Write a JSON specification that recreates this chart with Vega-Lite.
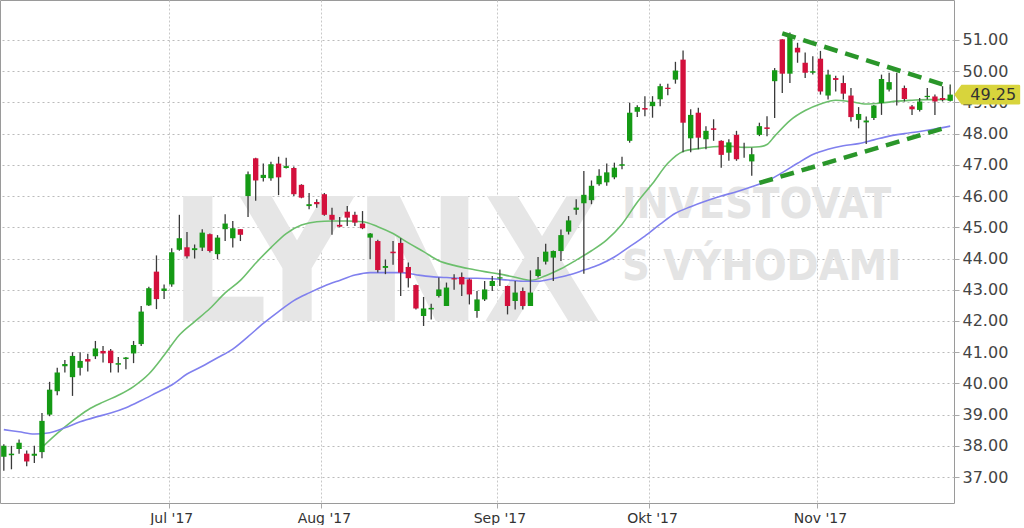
{
  "$schema": "https://vega.github.io/schema/vega-lite/v6.json",
  "width": 954,
  "height": 503,
  "padding": 0,
  "autosize": {"type": "pad"},
  "background": "white",
  "config": {
    "view": {"stroke": "#9a9a9a", "strokeWidth": 1},
    "font": "DejaVu Sans",
    "axisY": {"grid": true, "gridColor": "#bbbbbb", "gridDash": [2, 3], "domain": false, "tickSize": 5, "tickColor": "#aaaaaa", "labelFont": "DejaVu Sans", "labelFontSize": 16, "labelColor": "#444444", "labelPadding": 3},
    "axisX": {"grid": true, "gridColor": "#c8c8c8", "gridDash": [2, 2], "domain": false, "tickSize": 5, "tickColor": "#aaaaaa", "labelFont": "DejaVu Sans", "labelFontSize": 14, "labelColor": "#333333", "labelPadding": 3, "labelAngle": 0}
  },
  "datasets": {
    "candles": [
      {"d":"2017-06-01","o":37.65,"h":38.05,"l":37.2,"c":38.0},
      {"d":"2017-06-02","o":37.7,"h":38.0,"l":37.25,"c":37.75},
      {"d":"2017-06-05","o":37.9,"h":38.2,"l":37.75,"c":38.1},
      {"d":"2017-06-06","o":37.75,"h":37.85,"l":37.35,"c":37.5},
      {"d":"2017-06-07","o":37.68,"h":38.0,"l":37.45,"c":37.75},
      {"d":"2017-06-08","o":37.8,"h":39.05,"l":37.6,"c":38.8},
      {"d":"2017-06-09","o":39.0,"h":40.05,"l":38.95,"c":39.8},
      {"d":"2017-06-12","o":39.75,"h":40.5,"l":39.62,"c":40.35},
      {"d":"2017-06-13","o":40.55,"h":40.75,"l":40.35,"c":40.62},
      {"d":"2017-06-14","o":40.2,"h":41.0,"l":39.6,"c":40.88},
      {"d":"2017-06-15","o":40.5,"h":41.0,"l":40.25,"c":40.72},
      {"d":"2017-06-16","o":40.78,"h":40.95,"l":40.38,"c":40.7},
      {"d":"2017-06-19","o":40.87,"h":41.36,"l":40.78,"c":41.12},
      {"d":"2017-06-20","o":41.04,"h":41.2,"l":40.67,"c":40.96},
      {"d":"2017-06-21","o":41.05,"h":41.1,"l":40.35,"c":40.65},
      {"d":"2017-06-22","o":40.6,"h":40.85,"l":40.35,"c":40.65},
      {"d":"2017-06-23","o":40.78,"h":40.85,"l":40.45,"c":40.83},
      {"d":"2017-06-26","o":40.96,"h":41.36,"l":40.65,"c":41.23},
      {"d":"2017-06-27","o":41.26,"h":42.48,"l":41.2,"c":42.3},
      {"d":"2017-06-28","o":42.5,"h":43.1,"l":42.48,"c":43.05},
      {"d":"2017-06-29","o":43.58,"h":44.1,"l":42.38,"c":42.7},
      {"d":"2017-06-30","o":42.96,"h":43.17,"l":42.7,"c":43.04},
      {"d":"2017-07-03","o":43.17,"h":44.33,"l":43.1,"c":44.2},
      {"d":"2017-07-05","o":44.28,"h":45.4,"l":44.25,"c":44.65},
      {"d":"2017-07-06","o":44.36,"h":44.85,"l":44.0,"c":44.07},
      {"d":"2017-07-07","o":44.27,"h":44.45,"l":44.0,"c":44.33},
      {"d":"2017-07-10","o":44.35,"h":44.94,"l":44.24,"c":44.83},
      {"d":"2017-07-11","o":44.78,"h":44.8,"l":44.19,"c":44.24},
      {"d":"2017-07-12","o":44.14,"h":44.75,"l":43.98,"c":44.67},
      {"d":"2017-07-13","o":44.94,"h":45.42,"l":44.56,"c":45.12},
      {"d":"2017-07-14","o":44.65,"h":45.2,"l":44.35,"c":44.97},
      {"d":"2017-07-17","o":44.94,"h":44.94,"l":44.56,"c":44.76},
      {"d":"2017-07-18","o":46.0,"h":46.79,"l":45.33,"c":46.7},
      {"d":"2017-07-19","o":47.21,"h":47.23,"l":45.85,"c":46.5},
      {"d":"2017-07-20","o":46.58,"h":47.04,"l":46.47,"c":46.68},
      {"d":"2017-07-21","o":46.57,"h":47.1,"l":46.49,"c":47.02},
      {"d":"2017-07-24","o":47.04,"h":47.26,"l":46.03,"c":46.6},
      {"d":"2017-07-25","o":46.9,"h":47.23,"l":46.88,"c":46.96},
      {"d":"2017-07-26","o":46.9,"h":46.95,"l":46.0,"c":46.06},
      {"d":"2017-07-27","o":46.36,"h":46.38,"l":45.93,"c":45.95},
      {"d":"2017-07-28","o":45.68,"h":46.1,"l":45.58,"c":45.74},
      {"d":"2017-07-31","o":45.81,"h":45.9,"l":45.63,"c":45.74},
      {"d":"2017-08-01","o":46.06,"h":46.1,"l":45.37,"c":45.4},
      {"d":"2017-08-02","o":45.4,"h":45.63,"l":44.76,"c":45.24},
      {"d":"2017-08-03","o":45.08,"h":45.33,"l":45.0,"c":45.02},
      {"d":"2017-08-04","o":45.5,"h":45.68,"l":45.04,"c":45.31},
      {"d":"2017-08-07","o":45.4,"h":45.5,"l":45.04,"c":45.15},
      {"d":"2017-08-08","o":45.12,"h":45.52,"l":44.94,"c":44.97},
      {"d":"2017-08-09","o":44.67,"h":44.82,"l":43.98,"c":44.8},
      {"d":"2017-08-10","o":44.56,"h":44.6,"l":43.55,"c":43.63},
      {"d":"2017-08-11","o":43.7,"h":43.97,"l":43.5,"c":43.76},
      {"d":"2017-08-14","o":44.22,"h":44.56,"l":43.8,"c":44.17},
      {"d":"2017-08-15","o":44.5,"h":44.65,"l":42.8,"c":43.55},
      {"d":"2017-08-16","o":43.73,"h":43.87,"l":43.07,"c":43.37},
      {"d":"2017-08-17","o":43.15,"h":43.17,"l":42.37,"c":42.4},
      {"d":"2017-08-18","o":42.16,"h":42.77,"l":41.84,"c":42.4},
      {"d":"2017-08-21","o":42.37,"h":42.55,"l":42.05,"c":42.42},
      {"d":"2017-08-22","o":42.8,"h":43.39,"l":42.75,"c":43.01},
      {"d":"2017-08-23","o":42.48,"h":43.23,"l":42.48,"c":43.07},
      {"d":"2017-08-24","o":43.37,"h":43.5,"l":43.0,"c":43.33},
      {"d":"2017-08-25","o":43.41,"h":43.55,"l":42.8,"c":43.17},
      {"d":"2017-08-28","o":43.33,"h":43.36,"l":42.53,"c":42.85},
      {"d":"2017-08-29","o":42.32,"h":42.96,"l":42.1,"c":42.69},
      {"d":"2017-08-30","o":42.69,"h":43.28,"l":42.64,"c":43.01},
      {"d":"2017-08-31","o":43.12,"h":43.44,"l":42.96,"c":43.28},
      {"d":"2017-09-01","o":43.36,"h":43.65,"l":43.12,"c":43.4},
      {"d":"2017-09-05","o":43.12,"h":43.13,"l":42.21,"c":42.48},
      {"d":"2017-09-06","o":42.64,"h":43.28,"l":42.37,"c":42.91},
      {"d":"2017-09-07","o":42.96,"h":43.07,"l":42.37,"c":42.48},
      {"d":"2017-09-08","o":42.48,"h":43.62,"l":42.48,"c":42.91},
      {"d":"2017-09-11","o":43.44,"h":44.05,"l":43.39,"c":43.65},
      {"d":"2017-09-12","o":43.9,"h":44.47,"l":43.81,"c":44.22},
      {"d":"2017-09-13","o":44.03,"h":44.26,"l":43.28,"c":44.24},
      {"d":"2017-09-14","o":44.24,"h":44.93,"l":43.92,"c":44.75},
      {"d":"2017-09-15","o":44.86,"h":45.36,"l":44.77,"c":45.22},
      {"d":"2017-09-18","o":45.56,"h":45.9,"l":45.4,"c":45.63},
      {"d":"2017-09-19","o":45.77,"h":46.8,"l":43.51,"c":46.04},
      {"d":"2017-09-20","o":45.87,"h":46.5,"l":45.74,"c":46.33},
      {"d":"2017-09-21","o":46.38,"h":46.86,"l":46.33,"c":46.65},
      {"d":"2017-09-22","o":46.44,"h":47.04,"l":46.33,"c":46.76},
      {"d":"2017-09-25","o":46.6,"h":47.07,"l":46.54,"c":46.91},
      {"d":"2017-09-26","o":46.97,"h":47.26,"l":46.86,"c":47.02},
      {"d":"2017-09-27","o":47.77,"h":48.99,"l":47.71,"c":48.67},
      {"d":"2017-09-28","o":48.7,"h":48.91,"l":48.53,"c":48.85},
      {"d":"2017-09-29","o":48.82,"h":49.2,"l":48.56,"c":48.77},
      {"d":"2017-10-02","o":48.88,"h":49.2,"l":48.51,"c":49.02},
      {"d":"2017-10-03","o":49.1,"h":49.6,"l":48.88,"c":49.52},
      {"d":"2017-10-04","o":49.47,"h":49.6,"l":49.23,"c":49.43},
      {"d":"2017-10-05","o":49.73,"h":50.3,"l":49.6,"c":50.02},
      {"d":"2017-10-06","o":50.37,"h":50.66,"l":47.4,"c":48.35},
      {"d":"2017-10-09","o":47.85,"h":48.78,"l":47.4,"c":48.6},
      {"d":"2017-10-10","o":48.67,"h":48.83,"l":47.5,"c":47.87},
      {"d":"2017-10-11","o":47.82,"h":48.24,"l":47.5,"c":48.09},
      {"d":"2017-10-12","o":48.17,"h":48.46,"l":47.77,"c":48.12},
      {"d":"2017-10-13","o":47.77,"h":47.79,"l":46.91,"c":47.32},
      {"d":"2017-10-16","o":47.39,"h":47.82,"l":47.13,"c":47.72},
      {"d":"2017-10-17","o":47.96,"h":48.09,"l":47.13,"c":47.18},
      {"d":"2017-10-18","o":47.5,"h":47.71,"l":47.23,"c":47.5},
      {"d":"2017-10-19","o":47.11,"h":47.55,"l":46.65,"c":47.34},
      {"d":"2017-10-20","o":47.96,"h":48.35,"l":47.92,"c":48.24},
      {"d":"2017-10-23","o":48.2,"h":48.56,"l":47.92,"c":48.15},
      {"d":"2017-10-24","o":49.68,"h":50.1,"l":48.5,"c":50.03},
      {"d":"2017-10-25","o":51.02,"h":51.02,"l":49.3,"c":49.92},
      {"d":"2017-10-26","o":49.92,"h":51.24,"l":49.62,"c":51.13},
      {"d":"2017-10-27","o":50.75,"h":50.91,"l":50.27,"c":50.6},
      {"d":"2017-10-30","o":50.27,"h":50.6,"l":49.78,"c":49.95},
      {"d":"2017-10-31","o":49.95,"h":50.48,"l":49.89,"c":50.0},
      {"d":"2017-11-01","o":50.4,"h":50.65,"l":49.25,"c":49.35},
      {"d":"2017-11-02","o":49.22,"h":50.05,"l":49.09,"c":49.89},
      {"d":"2017-11-03","o":49.78,"h":49.85,"l":49.35,"c":49.72},
      {"d":"2017-11-06","o":49.62,"h":49.86,"l":49.09,"c":49.28},
      {"d":"2017-11-07","o":49.22,"h":49.46,"l":48.39,"c":48.53},
      {"d":"2017-11-08","o":48.44,"h":48.85,"l":48.17,"c":48.63},
      {"d":"2017-11-09","o":48.36,"h":48.55,"l":47.67,"c":48.42},
      {"d":"2017-11-10","o":48.5,"h":48.92,"l":48.44,"c":48.9},
      {"d":"2017-11-13","o":48.98,"h":49.89,"l":48.6,"c":49.75},
      {"d":"2017-11-14","o":49.41,"h":49.95,"l":49.35,"c":49.65},
      {"d":"2017-11-15","o":49.1,"h":49.95,"l":48.9,"c":49.1},
      {"d":"2017-11-16","o":49.46,"h":49.54,"l":49.03,"c":49.11},
      {"d":"2017-11-17","o":48.87,"h":48.92,"l":48.6,"c":48.78},
      {"d":"2017-11-20","o":48.76,"h":49.14,"l":48.71,"c":49.03},
      {"d":"2017-11-21","o":49.17,"h":49.46,"l":49.09,"c":49.21},
      {"d":"2017-11-22","o":49.19,"h":49.25,"l":48.6,"c":49.03},
      {"d":"2017-11-24","o":49.14,"h":49.52,"l":49.03,"c":49.08},
      {"d":"2017-11-27","o":49.05,"h":49.57,"l":49.03,"c":49.25}
    ],
    "ma": [
      {"d":"2017-06-08","s":"MA20","v":37.95},
      {"d":"2017-06-12","s":"MA20","v":38.4},
      {"d":"2017-06-14","s":"MA20","v":38.8},
      {"d":"2017-06-16","s":"MA20","v":39.15},
      {"d":"2017-06-20","s":"MA20","v":39.4},
      {"d":"2017-06-22","s":"MA20","v":39.62},
      {"d":"2017-06-26","s":"MA20","v":39.9},
      {"d":"2017-06-28","s":"MA20","v":40.3},
      {"d":"2017-06-30","s":"MA20","v":40.9},
      {"d":"2017-07-05","s":"MA20","v":41.55},
      {"d":"2017-07-07","s":"MA20","v":41.98},
      {"d":"2017-07-11","s":"MA20","v":42.4},
      {"d":"2017-07-13","s":"MA20","v":42.9},
      {"d":"2017-07-17","s":"MA20","v":43.3},
      {"d":"2017-07-19","s":"MA20","v":43.85},
      {"d":"2017-07-21","s":"MA20","v":44.35},
      {"d":"2017-07-25","s":"MA20","v":44.8},
      {"d":"2017-07-27","s":"MA20","v":45.07},
      {"d":"2017-07-31","s":"MA20","v":45.18},
      {"d":"2017-08-02","s":"MA20","v":45.2},
      {"d":"2017-08-04","s":"MA20","v":45.2},
      {"d":"2017-08-08","s":"MA20","v":45.18},
      {"d":"2017-08-10","s":"MA20","v":45.02},
      {"d":"2017-08-14","s":"MA20","v":44.8},
      {"d":"2017-08-16","s":"MA20","v":44.5},
      {"d":"2017-08-18","s":"MA20","v":44.22},
      {"d":"2017-08-22","s":"MA20","v":43.93},
      {"d":"2017-08-24","s":"MA20","v":43.78},
      {"d":"2017-08-28","s":"MA20","v":43.67},
      {"d":"2017-08-30","s":"MA20","v":43.58},
      {"d":"2017-09-01","s":"MA20","v":43.5},
      {"d":"2017-09-06","s":"MA20","v":43.4},
      {"d":"2017-09-08","s":"MA20","v":43.3},
      {"d":"2017-09-12","s":"MA20","v":43.45},
      {"d":"2017-09-14","s":"MA20","v":43.67},
      {"d":"2017-09-18","s":"MA20","v":43.95},
      {"d":"2017-09-20","s":"MA20","v":44.25},
      {"d":"2017-09-22","s":"MA20","v":44.6},
      {"d":"2017-09-26","s":"MA20","v":45.1},
      {"d":"2017-09-28","s":"MA20","v":45.8},
      {"d":"2017-10-02","s":"MA20","v":46.4},
      {"d":"2017-10-04","s":"MA20","v":47.05},
      {"d":"2017-10-06","s":"MA20","v":47.43},
      {"d":"2017-10-10","s":"MA20","v":47.52},
      {"d":"2017-10-12","s":"MA20","v":47.58},
      {"d":"2017-10-16","s":"MA20","v":47.6},
      {"d":"2017-10-18","s":"MA20","v":47.56},
      {"d":"2017-10-20","s":"MA20","v":47.58},
      {"d":"2017-10-23","s":"MA20","v":47.65},
      {"d":"2017-10-24","s":"MA20","v":47.92},
      {"d":"2017-10-26","s":"MA20","v":48.42},
      {"d":"2017-10-30","s":"MA20","v":48.74},
      {"d":"2017-11-01","s":"MA20","v":48.95},
      {"d":"2017-11-03","s":"MA20","v":49.07},
      {"d":"2017-11-07","s":"MA20","v":49.02},
      {"d":"2017-11-09","s":"MA20","v":48.95},
      {"d":"2017-11-13","s":"MA20","v":48.98},
      {"d":"2017-11-15","s":"MA20","v":49.04},
      {"d":"2017-11-17","s":"MA20","v":49.07},
      {"d":"2017-11-21","s":"MA20","v":49.09},
      {"d":"2017-11-24","s":"MA20","v":49.09},
      {"d":"2017-11-27","s":"MA20","v":49.1},
      {"d":"2017-06-01","s":"MA50","v":38.52},
      {"d":"2017-06-05","s":"MA50","v":38.45},
      {"d":"2017-06-07","s":"MA50","v":38.38},
      {"d":"2017-06-09","s":"MA50","v":38.42},
      {"d":"2017-06-13","s":"MA50","v":38.58},
      {"d":"2017-06-15","s":"MA50","v":38.77},
      {"d":"2017-06-19","s":"MA50","v":38.92},
      {"d":"2017-06-21","s":"MA50","v":39.05},
      {"d":"2017-06-23","s":"MA50","v":39.22},
      {"d":"2017-06-27","s":"MA50","v":39.45},
      {"d":"2017-06-29","s":"MA50","v":39.7},
      {"d":"2017-07-03","s":"MA50","v":39.95},
      {"d":"2017-07-06","s":"MA50","v":40.3},
      {"d":"2017-07-10","s":"MA50","v":40.55},
      {"d":"2017-07-12","s":"MA50","v":40.82},
      {"d":"2017-07-14","s":"MA50","v":41.1},
      {"d":"2017-07-18","s":"MA50","v":41.5},
      {"d":"2017-07-20","s":"MA50","v":41.92},
      {"d":"2017-07-24","s":"MA50","v":42.3},
      {"d":"2017-07-26","s":"MA50","v":42.65},
      {"d":"2017-07-28","s":"MA50","v":42.9},
      {"d":"2017-08-01","s":"MA50","v":43.12},
      {"d":"2017-08-03","s":"MA50","v":43.3},
      {"d":"2017-08-07","s":"MA50","v":43.47},
      {"d":"2017-08-09","s":"MA50","v":43.55},
      {"d":"2017-08-11","s":"MA50","v":43.55},
      {"d":"2017-08-15","s":"MA50","v":43.55},
      {"d":"2017-08-17","s":"MA50","v":43.48},
      {"d":"2017-08-21","s":"MA50","v":43.42},
      {"d":"2017-08-23","s":"MA50","v":43.39},
      {"d":"2017-08-25","s":"MA50","v":43.37},
      {"d":"2017-08-29","s":"MA50","v":43.37},
      {"d":"2017-08-31","s":"MA50","v":43.35},
      {"d":"2017-09-05","s":"MA50","v":43.31},
      {"d":"2017-09-07","s":"MA50","v":43.27},
      {"d":"2017-09-11","s":"MA50","v":43.27},
      {"d":"2017-09-13","s":"MA50","v":43.36},
      {"d":"2017-09-15","s":"MA50","v":43.47},
      {"d":"2017-09-19","s":"MA50","v":43.63},
      {"d":"2017-09-21","s":"MA50","v":43.8},
      {"d":"2017-09-25","s":"MA50","v":44.05},
      {"d":"2017-09-27","s":"MA50","v":44.38},
      {"d":"2017-09-29","s":"MA50","v":44.72},
      {"d":"2017-10-03","s":"MA50","v":45.1},
      {"d":"2017-10-05","s":"MA50","v":45.45},
      {"d":"2017-10-09","s":"MA50","v":45.66},
      {"d":"2017-10-11","s":"MA50","v":45.84},
      {"d":"2017-10-13","s":"MA50","v":46.0},
      {"d":"2017-10-17","s":"MA50","v":46.14},
      {"d":"2017-10-19","s":"MA50","v":46.3},
      {"d":"2017-10-23","s":"MA50","v":46.48},
      {"d":"2017-10-25","s":"MA50","v":46.75},
      {"d":"2017-10-27","s":"MA50","v":47.05},
      {"d":"2017-10-31","s":"MA50","v":47.33},
      {"d":"2017-11-02","s":"MA50","v":47.5},
      {"d":"2017-11-06","s":"MA50","v":47.61},
      {"d":"2017-11-08","s":"MA50","v":47.68},
      {"d":"2017-11-10","s":"MA50","v":47.8},
      {"d":"2017-11-14","s":"MA50","v":47.92},
      {"d":"2017-11-16","s":"MA50","v":48.0},
      {"d":"2017-11-20","s":"MA50","v":48.07},
      {"d":"2017-11-22","s":"MA50","v":48.15},
      {"d":"2017-11-27","s":"MA50","v":48.24}
    ],
    "trend": [
      {"d":"2017-10-25","t":"upper","v":51.21},
      {"d":"2017-11-27","t":"upper","v":49.5},
      {"d":"2017-10-20","t":"lower","v":46.42},
      {"d":"2017-11-24","t":"lower","v":48.16}
    ],
    "logo": [
      {"d":"2017-08-11","v":42.0,"t":"LYNX"}
    ],
    "words": [
      {"d":"2017-09-26","v":45.3,"t":"INVESTOVAT"},
      {"d":"2017-09-26","v":43.3,"t":"S VÝHODAMI"}
    ],
    "last": [
      {"d":"2017-11-27","v":49.25}
    ]
  },
  "encoding": {
    "x": {
      "field": "d",
      "type": "ordinal",
      "title": null,
      "scale": {"type": "band", "paddingInner": 0.3, "paddingOuter": 0.15},
      "axis": {
        "values": ["2017-07-03","2017-08-01","2017-09-01","2017-10-02","2017-11-01"],
        "labelExpr": "datum.value == '2017-07-03' ? \"Jul '17\" : datum.value == '2017-08-01' ? \"Aug '17\" : datum.value == '2017-09-01' ? \"Sep '17\" : datum.value == '2017-10-02' ? \"Okt '17\" : \"Nov '17\"",
        "title": null,
        "bandPosition": 0
      }
    }
  },
  "layer": [
    {
      "data": {"name": "logo"},
      "mark": {"type": "text", "align": "center", "baseline": "alphabetic", "font": "DejaVu Sans Condensed, DejaVu Sans, sans-serif", "fontWeight": "bold", "fontSize": 172, "color": "#e6e6e6"},
      "encoding": {
        "y": {"field": "v", "type": "quantitative", "title": null, "scale": {"domain": [36.17, 52.28], "nice": false, "zero": false},
          "axis": {"orient": "right", "values": [37,38,39,40,41,42,43,44,45,46,47,48,49,50,51], "format": ".2f", "title": null}},
        "text": {"field": "t"}
      }
    },
    {
      "data": {"name": "words"},
      "mark": {"type": "text", "align": "left", "baseline": "alphabetic", "font": "DejaVu Sans Condensed, DejaVu Sans, sans-serif", "fontWeight": "bold", "fontSize": 43, "color": "#e4e4e4"},
      "encoding": {
        "y": {"field": "v", "type": "quantitative", "title": null,
          "axis": {"orient": "right", "values": [37,38,39,40,41,42,43,44,45,46,47,48,49,50,51], "format": ".2f", "title": null}},
        "text": {"field": "t"}
      }
    },
    {
      "data": {"name": "ma"},
      "mark": {"type": "line", "strokeWidth": 1.6, "interpolate": "monotone"},
      "encoding": {
        "y": {"field": "v", "type": "quantitative", "title": null,
          "axis": {"orient": "right", "values": [37,38,39,40,41,42,43,44,45,46,47,48,49,50,51], "format": ".2f", "title": null}},
        "color": {"field": "s", "type": "nominal", "scale": {"domain": ["MA20", "MA50"], "range": ["#6cbf6c", "#8080ee"]}, "legend": null}
      }
    },
    {
      "data": {"name": "candles"},
      "mark": {"type": "rule", "color": "#3a3a3a", "strokeWidth": 1.3},
      "encoding": {
        "y": {"field": "l", "type": "quantitative", "title": null,
          "axis": {"orient": "right", "values": [37,38,39,40,41,42,43,44,45,46,47,48,49,50,51], "format": ".2f", "title": null}},
        "y2": {"field": "h"}
      }
    },
    {
      "data": {"name": "candles"},
      "mark": {"type": "bar"},
      "encoding": {
        "y": {"field": "o", "type": "quantitative", "title": null,
          "axis": {"orient": "right", "values": [37,38,39,40,41,42,43,44,45,46,47,48,49,50,51], "format": ".2f", "title": null}},
        "y2": {"field": "c"},
        "color": {
          "condition": [
            {"test": "datum.c > datum.o", "value": "#159a15"},
            {"test": "datum.c < datum.o", "value": "#d3103c"}
          ],
          "value": "#e2e22a"
        }
      }
    },
    {
      "data": {"name": "trend"},
      "mark": {"type": "line", "color": "#2a962a", "strokeWidth": 4.5, "strokeDash": [14, 8]},
      "encoding": {
        "y": {"field": "v", "type": "quantitative", "title": null,
          "axis": {"orient": "right", "values": [37,38,39,40,41,42,43,44,45,46,47,48,49,50,51], "format": ".2f", "title": null}},
        "detail": {"field": "t"}
      }
    },
    {
      "data": {"name": "last"},
      "mark": {"type": "point", "shape": "M-1,0L-0.78,-0.3L0.96,-0.3Q1,-0.3 1,-0.26L1,0.26Q1,0.3 0.96,0.3L-0.78,0.3Z", "filled": true, "opacity": 1, "color": "#d8d43c", "size": 4356, "xOffset": 37},
      "encoding": {
        "y": {"field": "v", "type": "quantitative", "title": null,
          "axis": {"orient": "right", "values": [37,38,39,40,41,42,43,44,45,46,47,48,49,50,51], "format": ".2f", "title": null}}
      }
    },
    {
      "data": {"name": "last"},
      "mark": {"type": "text", "align": "center", "baseline": "middle", "dx": 43, "font": "DejaVu Sans", "fontSize": 16, "color": "#333333"},
      "encoding": {
        "y": {"field": "v", "type": "quantitative", "title": null,
          "axis": {"orient": "right", "values": [37,38,39,40,41,42,43,44,45,46,47,48,49,50,51], "format": ".2f", "title": null}},
        "text": {"field": "v", "type": "quantitative", "format": ".2f"}
      }
    }
  ]
}
